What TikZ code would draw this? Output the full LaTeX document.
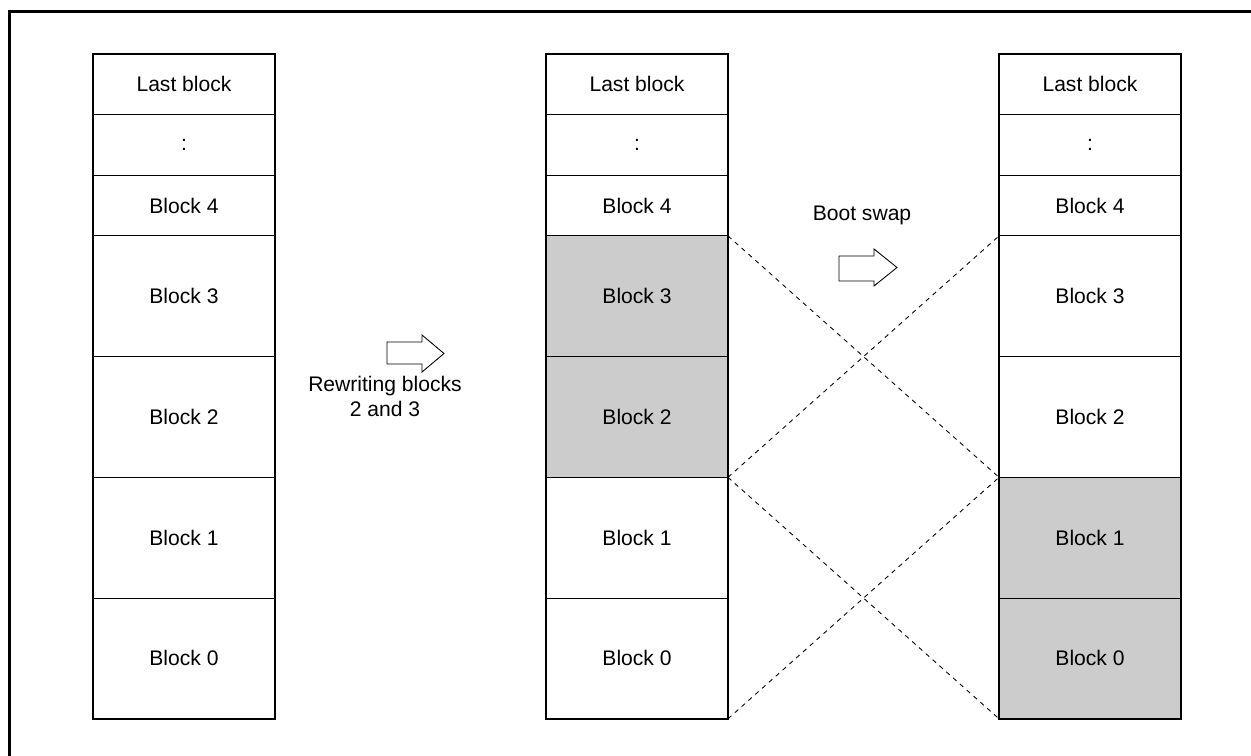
\documentclass[tikz,border=0pt]{standalone}
\usepackage{fontspec}
\setmainfont{Liberation Sans}
\usetikzlibrary{positioning}

\begin{document}
\begin{tikzpicture}[x=0.02cm, y=-0.02cm,
      blk/.style={draw, line width=0.5pt, minimum width=3.64cm, minimum height=1.213cm, inner sep=0pt, outer sep=0pt, font=\fontsize{12}{14}\selectfont},
      tall/.style={blk, minimum height=2.415cm},
      used/.style={fill=black!20},
      col/.style={line width=1.1pt},
      swapline/.style={line width=0.5pt, dash pattern=on 2.6pt off 2.6pt},
      hollow/.style={draw, line width=0.5pt, fill=white},
      lbl/.style={align=center, font=\fontsize{12}{14.2}\selectfont},
    ]
      \useasboundingbox (0,0) rectangle (1251,756);
      \draw[line width=1.5pt] (9.5,756) -- (9.5,11.5) -- (1251,11.5);

      % before
      \node[blk] (alast) at (184,84.3) {Last block};
      \node[blk, below=0pt of alast] (adots) {:};
      \node[blk, below=0pt of adots] (a4) {Block 4};
      \node[tall, below=0pt of a4] (a3) {Block 3};
      \node[tall, below=0pt of a3] (a2) {Block 2};
      \node[tall, below=0pt of a2] (a1) {Block 1};
      \node[tall, below=0pt of a1] (a0) {Block 0};
      \draw[col] (alast.north west) rectangle (a0.south east);

      % after rewriting
      \node[blk] (blast) at (637,84.3) {Last block};
      \node[blk, below=0pt of blast] (bdots) {:};
      \node[blk, below=0pt of bdots] (b4) {Block 4};
      \node[tall, used, below=0pt of b4] (b3) {Block 3};
      \node[tall, used, below=0pt of b3] (b2) {Block 2};
      \node[tall, below=0pt of b2] (b1) {Block 1};
      \node[tall, below=0pt of b1] (b0) {Block 0};
      \draw[col] (blast.north west) rectangle (b0.south east);

      % after boot swap
      \node[blk] (clast) at (1090,84.3) {Last block};
      \node[blk, below=0pt of clast] (cdots) {:};
      \node[blk, below=0pt of cdots] (c4) {Block 4};
      \node[tall, below=0pt of c4] (c3) {Block 3};
      \node[tall, below=0pt of c3] (c2) {Block 2};
      \node[tall, used, below=0pt of c2] (c1) {Block 1};
      \node[tall, used, below=0pt of c1] (c0) {Block 0};
      \draw[col] (clast.north west) rectangle (c0.south east);

      \draw[swapline] (b3.north east) -- (c2.south west);
      \draw[swapline] (b2.south east) -- (c3.north west);
      \draw[swapline] (b1.north east) -- (c0.south west);
      \draw[swapline] (b0.south east) -- (c1.north west);

      \draw[hollow] (387,342) -- (422,342) -- (422,335) -- (444,353.5) -- (422,372) -- (422,364) -- (387,364) -- cycle;
      \node[lbl] (rewrite) at (385,396) {Rewriting blocks\\2 and 3};

      \draw[hollow] (839,256) -- (874,256) -- (874,249) -- (897,267.5) -- (874,286) -- (874,281) -- (839,281) -- cycle;
      \node[lbl] (bootswap) at (862,215) {Boot swap};
    \end{tikzpicture}
\end{document}
